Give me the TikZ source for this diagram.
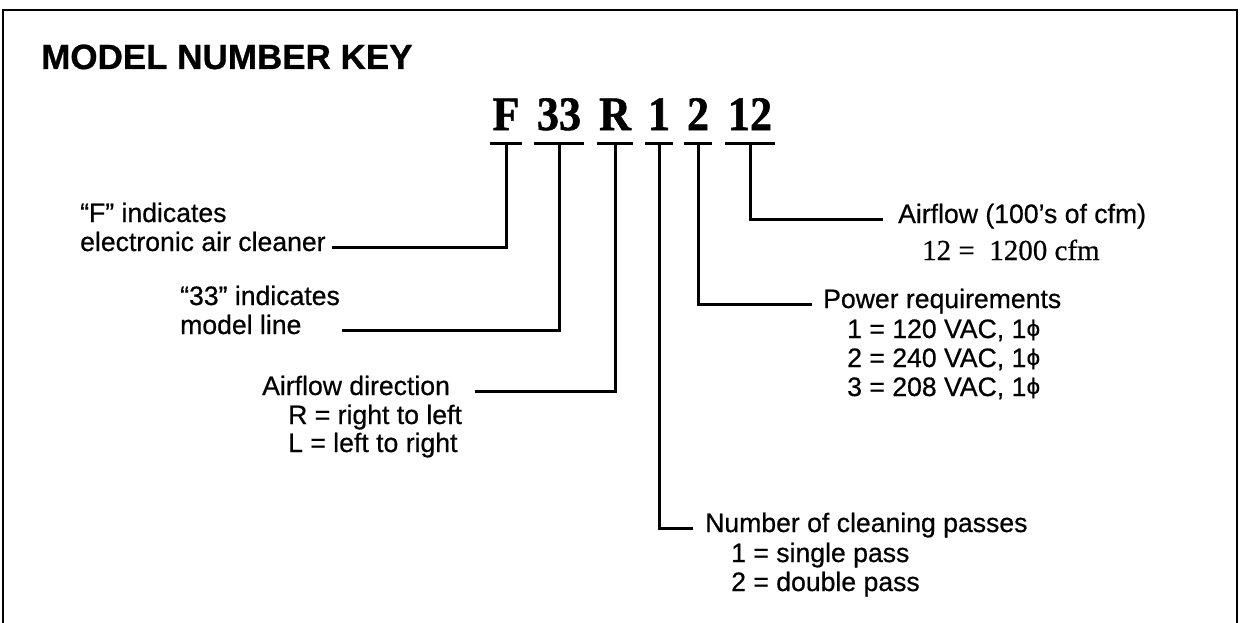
\documentclass[tikz,border=0pt]{standalone}
\usepackage{fontspec}
\setmainfont{Liberation Sans}[FakeBold=0.6]
\newfontfamily\labfont{Liberation Sans}[FakeBold=0.6]
\newfontfamily\titlefont{Liberation Sans Bold}[FakeBold=0.8]
\newfontfamily\codefont{Liberation Serif Bold}[FakeBold=1.2]
\newfontfamily\serfont{Liberation Serif}[FakeBold=0.6]
\newfontfamily\dvfont{DejaVu Sans}[FakeBold=0.5]
\newcommand{\phiglyph}{\raisebox{0.08em}{\scalebox{0.8}{\dvfont ϕ}}}
\begin{document}
\begin{tikzpicture}[x=1pt,y=-1pt,
  lab/.style={anchor=base west, inner sep=0pt, text height=0.72em, text depth=0pt, font=\fontsize{26.6}{30}\selectfont\labfont},
  code/.style={anchor=base, inner ysep=0pt, inner xsep=2.5pt, font=\fontsize{48}{50}\selectfont\codefont, xscale=0.92},
  conn/.style={line width=3pt, line cap=butt},
  frame/.style={line width=2.2pt}]
\useasboundingbox (0,0) rectangle (1241,623);
\draw[frame] (3,623) -- (3,10) -- (1237,10) -- (1237,623);
\node[anchor=base west, inner sep=0pt, font=\fontsize{35}{38}\selectfont\titlefont] (title) at (41,69) {MODEL NUMBER KEY};
% code characters
\node[code] (cF) at (506,130) {F};
\node[code] (c33) at (559,130) {33};
\node[code] (cR) at (615,130) {R};
\node[code] (c1) at (659,130) {1};
\node[code] (c2) at (698,130) {2};
\node[code] (c12) at (750,130) {12};
% bars
\foreach \n in {cF,c33,cR,c1,c2,c12}{
  \draw[conn] ([yshift=-13pt]\n.base west) -- ([yshift=-13pt]\n.base east);
  \coordinate (s\n) at ([yshift=-13pt]\n.base);
}
% labels left
\node[lab] (fl1) at (80,222) {“F” indicates};
\node[lab] (fl2) at (80,251) {electronic air cleaner};
\node[lab] (tl1) at (180,305) {“33” indicates};
\node[lab] (tl2) at (180,334) {model line};
\node[lab] (al1) at (262,395) {Airflow direction};
\node[lab] (al2) at (288,424) {R = right to left};
\node[lab] (al3) at (288,452) {L = left to right};
% labels right
\node[lab] (nl1) at (705,532) {Number of cleaning passes};
\node[lab] (nl2) at (731,562) {1 = single pass};
\node[lab] (nl3) at (731,591) {2 = double pass};
\node[lab] (pl1) at (823,308) {Power requirements};
\node[lab] (pl2) at (847,338) {1 = 120 VAC, 1\phiglyph};
\node[lab] (pl3) at (847,367) {2 = 240 VAC, 1\phiglyph};
\node[lab] (pl4) at (847,396) {3 = 208 VAC, 1\phiglyph};
\node[lab] (fw1) at (898,223) {Airflow (100’s of cfm)};
\node[anchor=base west, inner sep=0pt, font=\fontsize{29}{32}\selectfont\serfont] (fw2) at (922,260) {12 =\ \ 1200 cfm};
% connectors
\draw[conn] (scF) |- ([xshift=6pt]fl2.east);
\draw[conn] (sc33) |- ([xshift=40pt]tl2.east);
\draw[conn] (scR) |- ([xshift=25pt]al1.east);
\draw[conn] (sc1) |- ([xshift=-12pt]nl1.west);
\draw[conn] (sc2) |- ([xshift=-11pt]pl1.west);
\draw[conn] (sc12) |- ([xshift=-15pt]fw1.west);
\end{tikzpicture}
\end{document}
